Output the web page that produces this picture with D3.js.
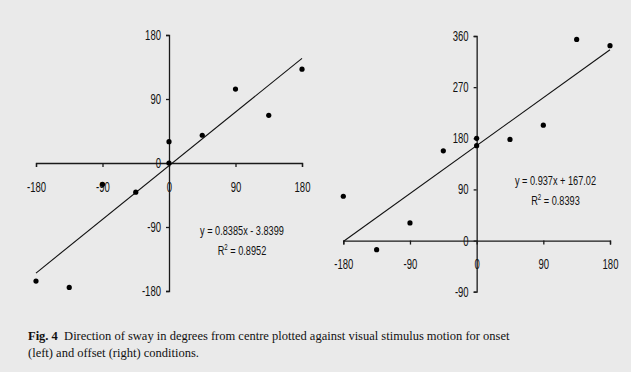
<!DOCTYPE html>
<html><head><meta charset="utf-8">
<script src="https://cdn.jsdelivr.net/npm/d3@7"></script>
<style>
html,body{margin:0;padding:0;background:#eaeaea;}
svg{display:block;}
.num{font-family:"Liberation Sans","Arial",sans-serif;font-size:14px;fill:#111;}
.eq{font-size:13.5px;}
.cap{font-family:"Liberation Serif","Times New Roman",serif;font-size:12.5px;fill:#111;}
</style></head>
<body>
<svg id="c" width="631" height="372"></svg>
<script>
// Data
const ticksX = [-180, -90, 0, 90, 180];
const ticksYLeft = [-180, -90, 0, 90, 180];
const ticksYRight = [-90, 0, 90, 180, 270, 360];
const onsetX = [-180, -135, -90, -45, 0, 0, 45, 90, 135, 180];
const onsetY = [-166, -175, -30, -41, 0, 30, 39, 104, 67, 132];
const offsetX = [-180, -135, -90, -45, 0, 0, 45, 90, 135, 180];
const offsetY = [78, -16, 31, 158, 180, 167, 178, 203, 354, 343];
const fitLeft = {slope: 0.8385, intercept: -3.8399, label: "y = 0.8385x - 3.8399", r2: "0.8952"};
const fitRight = {slope: 0.937, intercept: 167.02, label: "y = 0.937x + 167.02", r2: "0.8393"};
const caption1Bold = "Fig. 4";
const caption1 = "  Direction of sway in degrees from centre plotted against visual stimulus motion for onset";
const caption2 = "(left) and offset (right) conditions.";

const SX = 0.68; // horizontal condensing of the narrow sans labels
function condense(sel){
  sel.each(function(){
    const ax = +(this.getAttribute("x") || 0);
    this.setAttribute("transform", `translate(${ax},0) scale(${SX},1) translate(${-ax},0)`);
  });
}

const svg = d3.select("#c");
svg.append("rect").attr("width",631).attr("height",372).attr("fill","#eaeaea");

function panel(opts){
  const g = svg.append("g");
  const x = d3.scaleLinear().domain([-180,180]).range(opts.xr);
  const y = d3.scaleLinear().domain(opts.yd).range(opts.yr);
  const xa = d3.axisBottom(x).tickValues(ticksX).tickSize(4).tickPadding(15).tickFormat(d=>String(d));
  const gx = g.append("g").attr("transform",`translate(0,${y(0)})`).call(xa);
  const ya = d3.axisLeft(y).tickValues(opts.yt).tickSize(3).tickPadding(5).tickFormat(d=>String(d));
  const gy = g.append("g").attr("transform",`translate(${x(0)},0)`).call(ya);
  [gx,gy].forEach(a=>{
    a.attr("font-family",null).attr("font-size",null);
    a.select(".domain").attr("stroke","#1a1a1a").attr("stroke-width",1.3);
    a.selectAll(".tick line").attr("stroke","#1a1a1a").attr("stroke-width",1.3);
    a.selectAll(".tick text").attr("class","num").attr("fill","#111").call(condense);
  });
  g.append("line")
    .attr("x1",x(-180)).attr("y1",y(opts.fit.slope*-180+opts.fit.intercept))
    .attr("x2",x(180)).attr("y2",y(opts.fit.slope*180+opts.fit.intercept))
    .attr("stroke","#111").attr("stroke-width",1.1);
  g.selectAll("circle").data(opts.xs.map((v,i)=>[v,opts.ys[i]])).join("circle")
    .attr("cx",d=>x(d[0])).attr("cy",d=>y(d[1])).attr("r",2.6).attr("fill","#000");
  const t = g.append("text").attr("class","num eq").attr("text-anchor","middle")
    .attr("x",opts.eq[0]).attr("y",opts.eq[1]).text(opts.fit.label);
  const r = g.append("text").attr("class","num eq").attr("text-anchor","middle")
    .attr("x",opts.eq[0]).attr("y",opts.eq[1]+20);
  r.append("tspan").text("R");
  r.append("tspan").attr("dy",-5).attr("font-size","9px").text("2");
  r.append("tspan").attr("dy",5).text(" = "+opts.fit.r2);
  condense(t); condense(r);
}

panel({xr:[36,302], yd:[-180,180], yr:[291,35], yt:ticksYLeft, xs:onsetX, ys:onsetY, fit:fitLeft, eq:[242,235]});
panel({xr:[343.3,610], yd:[-90,360], yr:[291.7,36], yt:ticksYRight, xs:offsetX, ys:offsetY, fit:fitRight, eq:[555.5,185]});

const c1 = svg.append("text").attr("class","cap").attr("x",28).attr("y",340).style("white-space","pre");
c1.append("tspan").attr("font-weight","bold").text(caption1Bold);
c1.append("tspan").text(caption1);
svg.append("text").attr("class","cap").attr("x",28).attr("y",357).text(caption2);
</script>
</body></html>
